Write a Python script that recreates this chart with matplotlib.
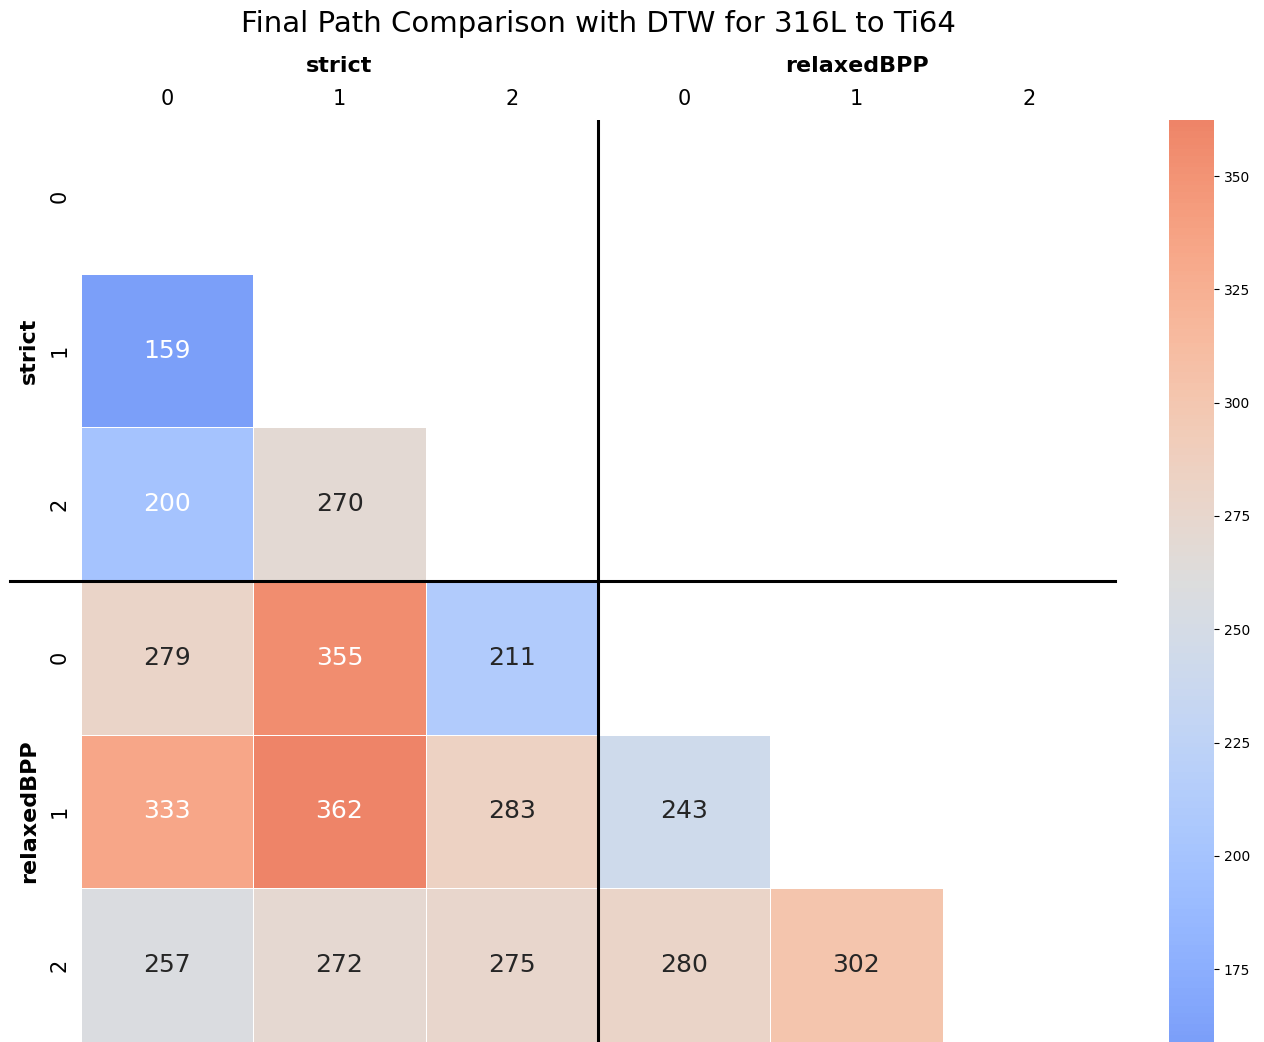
import numpy as np
import matplotlib
matplotlib.use("Agg")
from matplotlib import pyplot as plt
from matplotlib.colors import ListedColormap
import seaborn as sns

groups = ["strict", "relaxedBPP"]
paths = ["0", "1", "2"]
# lower triangle of the DTW distance matrix (row i, columns 0..i-1)
row1 = [158.9]
row2 = [200, 270]
row3 = [279, 355, 211]
row4 = [333, 362.4, 283, 243]
row5 = [257, 272, 275, 280, 302]
rows = [row1, row2, row3, row4, row5]

n = len(groups) * len(paths)
dist = np.full((n, n), np.nan)
for i, r in enumerate(rows, start=1):
    dist[i, :len(r)] = r
mask = np.triu(np.ones((n, n), dtype=bool))

# middle part of coolwarm only
base = plt.get_cmap("coolwarm")
cmap = ListedColormap(base(np.linspace(0.2, 0.8, 256)))

fig = plt.figure(figsize=(12.64, 10.42), dpi=100)
ax = fig.add_axes([81 / 1264, 0, 1034 / 1264, 922 / 1042])
cax = fig.add_axes([1169 / 1264, 0, 45 / 1264, 922 / 1042])

sns.heatmap(dist, mask=mask, cmap=cmap, annot=True, fmt=".0f",
            annot_kws={"fontsize": 18}, linewidths=0.5, linecolor="white",
            ax=ax, cbar_ax=cax, xticklabels=paths * 2, yticklabels=paths * 2)

for t in ax.texts:
    v = float(t.get_text())
    t.set_color("white" if (v < 205 or v > 320) else "0.15")

ax.xaxis.tick_top()
ax.tick_params(length=0, labelsize=15, pad=8)
ax.tick_params(axis="y", labelrotation=90)
for lab in ax.get_yticklabels():
    lab.set_va("center")

# group separators
ax.axvline(3, color="black", lw=2.2)
ax.plot([-0.41, 6], [3, 3], color="black", lw=2.2, clip_on=False)

for k, g in enumerate(groups):
    ax.text(1.5 + 3 * k, -0.35, g, ha="center", va="center",
            fontsize=16, fontweight="bold")
    ax.text(-0.3, 1.5 + 3 * k, g, ha="center", va="center", rotation=90,
            fontsize=16, fontweight="bold")

cax.tick_params(labelsize=10)
cax.set_yticks([175, 200, 225, 250, 275, 300, 325, 350])

fig.text(598 / 1264, 1 - 24 / 1042, "Final Path Comparison with DTW for 316L to Ti64",
         ha="center", va="center", fontsize=21)

fig.savefig("out.png", dpi=100)
